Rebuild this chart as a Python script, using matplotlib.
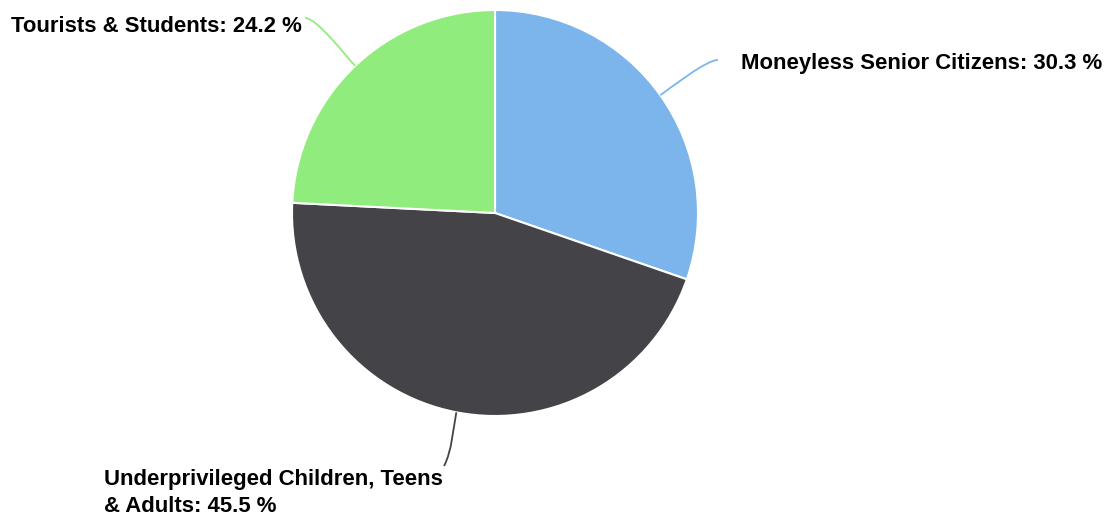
import matplotlib
matplotlib.use("Agg")
from matplotlib import pyplot as plt
from matplotlib.path import Path
from matplotlib.patches import PathPatch
import numpy as np

# data
labels = ["Moneyless Senior Citizens", "Underprivileged Children, Teens\n& Adults", "Tourists & Students"]
shares = [30.3, 45.5, 24.2]
colors = ["#7cb5ec", "#434348", "#90ed7d"]

W, H = 1113, 517
fig = plt.figure(figsize=(W / 100, H / 100), dpi=100)
ax = fig.add_axes([0, 0, 1, 1])
ax.set_xlim(0, W)
ax.set_ylim(0, H)
ax.set_aspect("equal")
ax.axis("off")

cx, cy, r = 495, H - 213, 203
wedges, _ = ax.pie(shares, colors=colors, startangle=90, counterclock=False,
                   center=(cx, cy), radius=r,
                   wedgeprops=dict(edgecolor="white", linewidth=1.5))
ax.set_xlim(0, W)
ax.set_ylim(0, H)

# label anchor (pixels from top-left), alignment
label_pos = [(741, 64, "left"), (104, 493, "left"), (302, 26, "right")]
conn_end = [(718, 60), (444, 466), (305, 18)]

cum = 0
for i, v in enumerate(shares):
    mid = np.deg2rad(90 - (cum + v / 2) / 100 * 360)
    cum += v
    x0, y0 = cx + r * np.cos(mid), cy + r * np.sin(mid)
    x1, y1 = cx + (r + 15) * np.cos(mid), cy + (r + 15) * np.sin(mid)
    ex, ey = conn_end[i][0], H - conn_end[i][1]
    if i == 1:
        cx2, cy2 = ex + 8, ey + 15
    else:
        side = 1 if ex > cx else -1
        cx2, cy2 = ex - side * 12, ey
    path = Path([(x0, y0), (x1, y1), (cx2, cy2), (ex, ey)],
                [Path.MOVETO, Path.CURVE4, Path.CURVE4, Path.CURVE4])
    ax.add_patch(PathPatch(path, facecolor="none", edgecolor=colors[i], lw=1.3))
    lx, ly, ha = label_pos[i]
    ax.text(lx, H - ly, f"{labels[i]}: {v} %", ha=ha, va="center",
            fontsize=15.9, fontweight="bold", family="Liberation Sans",
            color="black", linespacing=1.4)

fig.savefig("out.png", dpi=100)
